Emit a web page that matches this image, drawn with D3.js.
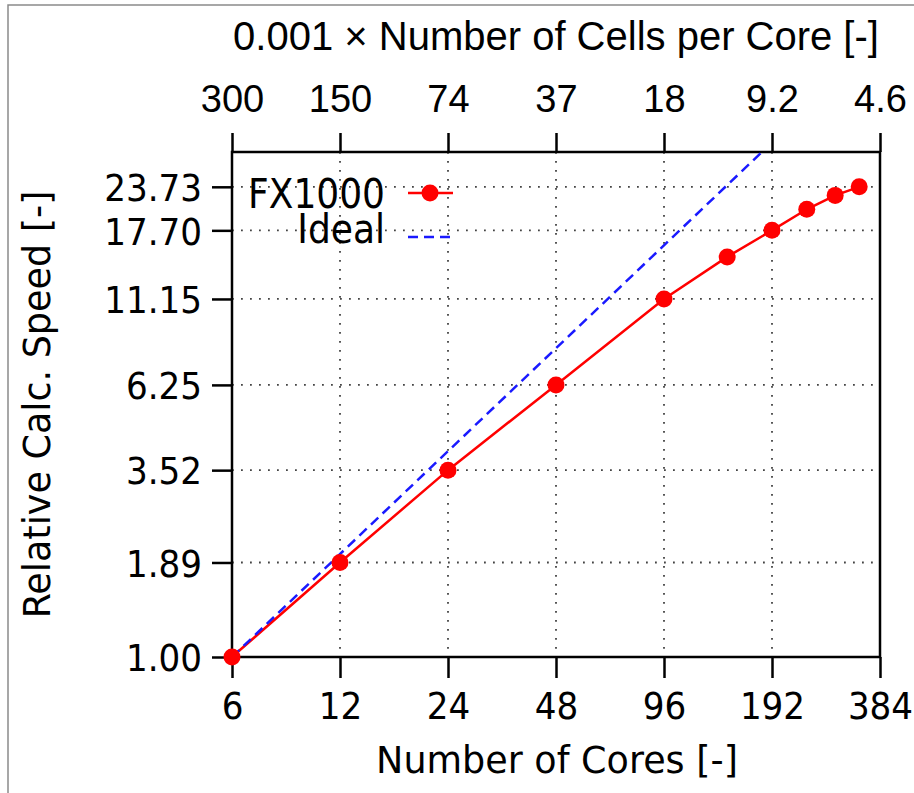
<!DOCTYPE html>
<html>
<head>
<meta charset="utf-8">
<script src="https://cdn.jsdelivr.net/npm/d3@7"></script>
<style>
  body { margin: 0; background: #fff; }
  svg { display: block; }
</style>
</head>
<body>
<div id="chart"></div>
<script>
// measured data
const cores = [6, 12, 24, 48, 96, 144, 192, 240, 288, 336]
const speedFX1000 = [1.00, 1.89, 3.52, 6.25, 11.15, 14.8, 17.70, 20.4, 22.4, 23.73]
const idealCores = [6, 384]
const idealSpeed = [1, 64]

// tick labels
const coreTicks = [6, 12, 24, 48, 96, 192, 384]
const cellTickLabels = ["300", "150", "74", "37", "18", "9.2", "4.6"]
const speedTicks = [1.00, 1.89, 3.52, 6.25, 11.15, 17.70, 23.73]

const W = 914, H = 793
const margin = { top: 152, right: 34, bottom: 136, left: 232 }
const width = W - margin.left - margin.right
const height = H - margin.top - margin.bottom

const narrowFont = "'DejaVu Sans Condensed', 'DejaVu Sans', sans-serif"
const wordFont = "'DejaVu Sans', sans-serif"
const topFont = "'Liberation Sans', Arial, sans-serif"

const root = d3.select("#chart")
    .append("svg")
    .attr("width", W)
    .attr("height", H)

// frame of the original picture (top and left edges only)
root.append("path")
    .attr("d", `M8,${H} L8,5 L${W},5`)
    .attr("fill", "none")
    .attr("stroke", "#8a8a8a")
    .attr("stroke-width", 1.5)

const svg = root.append("g")
    .attr("transform", `translate(${margin.left},${margin.top})`)

const x = d3.scaleLog().base(2).domain([6, 384]).range([0, width])
const y = d3.scaleLog().domain([1, 30]).range([height, 0])

// dotted grid
svg.selectAll(".xgrid")
    .data(coreTicks.slice(1, -1))
    .join("line")
    .attr("x1", d => x(d)).attr("x2", d => x(d))
    .attr("y1", 0).attr("y2", height)
    .attr("stroke", "#444")
    .attr("stroke-width", 1.8)
    .attr("stroke-dasharray", "1.8,7.2")

svg.selectAll(".ygrid")
    .data(speedTicks.slice(1))
    .join("line")
    .attr("x1", 0).attr("x2", width)
    .attr("y1", d => y(d)).attr("y2", d => y(d))
    .attr("stroke", "#444")
    .attr("stroke-width", 1.8)
    .attr("stroke-dasharray", "1.8,7.2")

// axes
const bottomAxis = svg.append("g")
    .attr("transform", `translate(0,${height})`)
    .call(d3.axisBottom(x).tickValues(coreTicks).tickFormat(d3.format("d")).tickSize(21).tickSizeOuter(0))
bottomAxis.selectAll(".tick text").attr("y", 62).attr("dy", 0)

const topAxis = svg.append("g")
    .call(d3.axisTop(x).tickValues(coreTicks).tickFormat((d, i) => cellTickLabels[i]).tickSize(19).tickSizeOuter(0))
topAxis.selectAll(".tick text").attr("y", -40).attr("dy", 0)
    .style("font-family", topFont).style("font-size", "38px")

const leftAxis = svg.append("g")
    .call(d3.axisLeft(y).tickValues(speedTicks).tickFormat(d3.format(".2f")).tickSize(20).tickSizeOuter(0))
leftAxis.selectAll(".tick text").attr("x", -30).attr("dy", "0.36em")

svg.selectAll(".domain").remove()
svg.selectAll(".tick line").attr("stroke", "#000").attr("stroke-width", 2.5)
bottomAxis.selectAll(".tick text").style("font-family", narrowFont).style("font-size", "38px").attr("fill", "#000")
leftAxis.selectAll(".tick text").style("font-family", narrowFont).style("font-size", "38px").attr("fill", "#000")
topAxis.selectAll(".tick text").attr("fill", "#000")

// plot border
svg.append("rect")
    .attr("width", width)
    .attr("height", height)
    .attr("fill", "none")
    .attr("stroke", "#000")
    .attr("stroke-width", 2.5)

svg.append("clipPath").attr("id", "plot-clip")
    .append("rect").attr("width", width).attr("height", height)

const plot = svg.append("g").attr("clip-path", "url(#plot-clip)")

// FX1000 series
const fxData = cores.map((c, i) => [c, speedFX1000[i]])
plot.append("path")
    .datum(fxData)
    .attr("fill", "none")
    .attr("stroke", "#ff0000")
    .attr("stroke-width", 2.5)
    .attr("d", d3.line().x(d => x(d[0])).y(d => y(d[1])))

svg.selectAll(".fxpt")
    .data(fxData)
    .join("circle")
    .attr("cx", d => x(d[0]))
    .attr("cy", d => y(d[1]))
    .attr("r", 8.5)
    .attr("fill", "#ff0000")

// Ideal series (drawn on top)
plot.append("path")
    .datum(idealCores.map((c, i) => [c, idealSpeed[i]]))
    .attr("fill", "none")
    .attr("stroke", "#1a1aff")
    .attr("stroke-width", 2.5)
    .attr("stroke-dasharray", "10,6")
    .attr("d", d3.line().x(d => x(d[0])).y(d => y(d[1])))

// legend
const legend = root.append("g")
legend.append("text")
    .attr("x", 385).attr("y", 208)
    .attr("text-anchor", "end")
    .style("font-family", narrowFont).style("font-size", "40px")
    .text("FX1000")
legend.append("line")
    .attr("x1", 408).attr("x2", 453).attr("y1", 193).attr("y2", 193)
    .attr("stroke", "#ff0000").attr("stroke-width", 2.5)
legend.append("circle")
    .attr("cx", 430).attr("cy", 193).attr("r", 8.5).attr("fill", "#ff0000")
legend.append("text")
    .attr("x", 385).attr("y", 243)
    .attr("text-anchor", "end")
    .style("font-family", narrowFont).style("font-size", "40px")
    .text("Ideal")
legend.append("line")
    .attr("x1", 408).attr("x2", 453).attr("y1", 237).attr("y2", 237)
    .attr("stroke", "#1a1aff").attr("stroke-width", 2.5)
    .attr("stroke-dasharray", "10,6")

// axis titles
root.append("text")
    .attr("x", 557).attr("y", 773)
    .attr("text-anchor", "middle")
    .style("font-family", wordFont).style("font-size", "36.5px")
    .text("Number of Cores [-]")

root.append("text")
    .attr("x", 556).attr("y", 50)
    .attr("text-anchor", "middle")
    .style("font-family", topFont).style("font-size", "40px")
    .text("0.001 × Number of Cells per Core [-]")

root.append("text")
    .attr("transform", `translate(50,${margin.top + height / 2}) rotate(-90)`)
    .attr("text-anchor", "middle")
    .style("font-family", wordFont).style("font-size", "36.5px")
    .text("Relative Calc. Speed [-]")
</script>
</body>
</html>
